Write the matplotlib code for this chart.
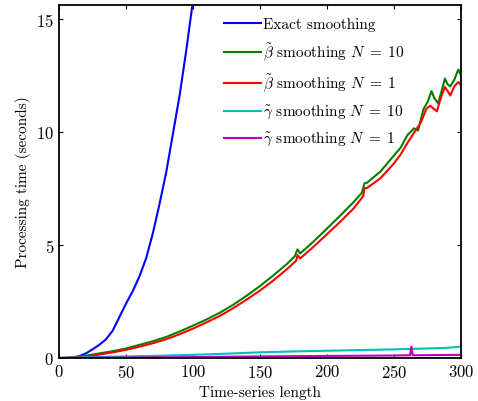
import matplotlib
matplotlib.use("Agg")
import matplotlib.pyplot as plt

plt.rcParams['font.family'] = ['cmr10', 'DejaVu Serif']
plt.rcParams['mathtext.fontset'] = 'cm'
plt.rcParams['axes.formatter.use_mathtext'] = True
plt.rcParams['axes.unicode_minus'] = False

# Exact smoothing
exact_x = [0, 5, 10, 15, 20, 25, 30, 35, 40, 45, 50, 55, 60, 65, 70, 75, 80, 85, 90, 95, 100]
exact_y = [0.0, 0.0, 0.02, 0.08, 0.2, 0.38, 0.58, 0.82, 1.2, 1.8, 2.4, 2.95, 3.6, 4.4,
           5.5, 6.8, 8.2, 9.9, 11.6, 13.6, 15.8]

# beta smoothing N=10
beta10_x = [0, 10, 20, 30, 40, 50, 60, 70, 80, 90, 100, 110, 120, 130, 140, 150, 160, 170,
            176, 178, 180, 190, 200, 210, 220, 226, 228, 230, 240, 250, 255, 260, 265, 268,
            272, 275, 278, 280, 283, 286, 288, 290, 292, 295, 298, 300]
beta10_y = [0.0, 0.02, 0.1, 0.2, 0.3, 0.42, 0.58, 0.74, 0.93, 1.17, 1.43, 1.7, 2.0, 2.35,
            2.75, 3.18, 3.65, 4.15, 4.5, 4.8, 4.62, 5.15, 5.72, 6.3, 6.9, 7.3, 7.72, 7.75,
            8.25, 8.95, 9.3, 9.85, 10.15, 10.05, 11.0, 11.3, 11.8, 11.5, 11.25, 11.9, 12.35,
            12.1, 12.0, 12.3, 12.75, 12.5]

# beta smoothing N=1
beta1_x = [0, 10, 20, 30, 40, 50, 60, 70, 80, 90, 100, 110, 120, 130, 140, 150, 160, 170,
           177, 178, 180, 190, 200, 210, 220, 227, 228, 230, 240, 250, 255, 260, 266, 270,
           274, 277, 282, 285, 288, 290, 292, 295, 298, 300]
beta1_y = [0.0, 0.01, 0.06, 0.15, 0.25, 0.36, 0.5, 0.65, 0.83, 1.05, 1.3, 1.57, 1.86, 2.2,
           2.58, 2.98, 3.43, 3.92, 4.3, 4.55, 4.4, 4.92, 5.47, 6.03, 6.62, 7.15, 7.5, 7.52,
           7.95, 8.6, 9.0, 9.5, 10.05, 10.4, 11.0, 11.15, 10.9, 11.5, 11.98, 11.8, 11.6,
           12.0, 12.2, 12.05]

# gamma smoothing N=10
gamma10_x = [0, 25, 50, 75, 100, 125, 150, 175, 200, 225, 250, 260, 262, 275, 290, 300]
gamma10_y = [0.0, 0.04, 0.07, 0.1, 0.14, 0.19, 0.25, 0.29, 0.32, 0.35, 0.38, 0.4, 0.4,
             0.42, 0.45, 0.5]

# gamma smoothing N=1
gamma1_x = [0, 50, 100, 150, 200, 250, 262, 263, 264, 300]
gamma1_y = [0.0, 0.02, 0.04, 0.07, 0.09, 0.11, 0.12, 0.5, 0.12, 0.14]

labels = ['Exact smoothing',
          r'$\tilde{\beta}$ smoothing $N\;=\;10$',
          r'$\tilde{\beta}$ smoothing $N\;=\;1$',
          r'$\tilde{\gamma}$ smoothing $N\;=\;10$',
          r'$\tilde{\gamma}$ smoothing $N\;=\;1$']
colors = ['#0000ff', '#008000', '#ff0000', '#00bfbf', '#bf00bf']

fig = plt.figure(figsize=(4.78, 4.02), dpi=100)
ax = fig.add_axes([0.1234, 0.107, 0.841, 0.878])

series = [(exact_x, exact_y), (beta10_x, beta10_y), (beta1_x, beta1_y),
          (gamma10_x, gamma10_y), (gamma1_x, gamma1_y)]
for (xs, ys), c, lab in zip(series, colors, labels):
    ax.plot(xs, ys, color=c, lw=1.5, label=lab)

ax.set_xlim(0, 300)
ax.set_ylim(0, 15.6)
ax.set_xticks([0, 50, 100, 150, 200, 250, 300])
ax.set_yticks([0, 5, 10, 15])
ax.tick_params(direction='in', top=True, right=True, length=3, width=0.8, labelsize=12)
for s in ax.spines.values():
    s.set_linewidth(1.3)
ax.set_xlabel('Time-series length', fontsize=11)
ax.set_ylabel('Processing time (seconds)', fontsize=11)

leg = ax.legend(loc='upper left', bbox_to_anchor=(0.385, 0.995), frameon=False, fontsize=11,
                handlelength=2.4, labelspacing=0.6, handletextpad=0.1, borderaxespad=0.3)

fig.savefig('out.png', dpi=100)
